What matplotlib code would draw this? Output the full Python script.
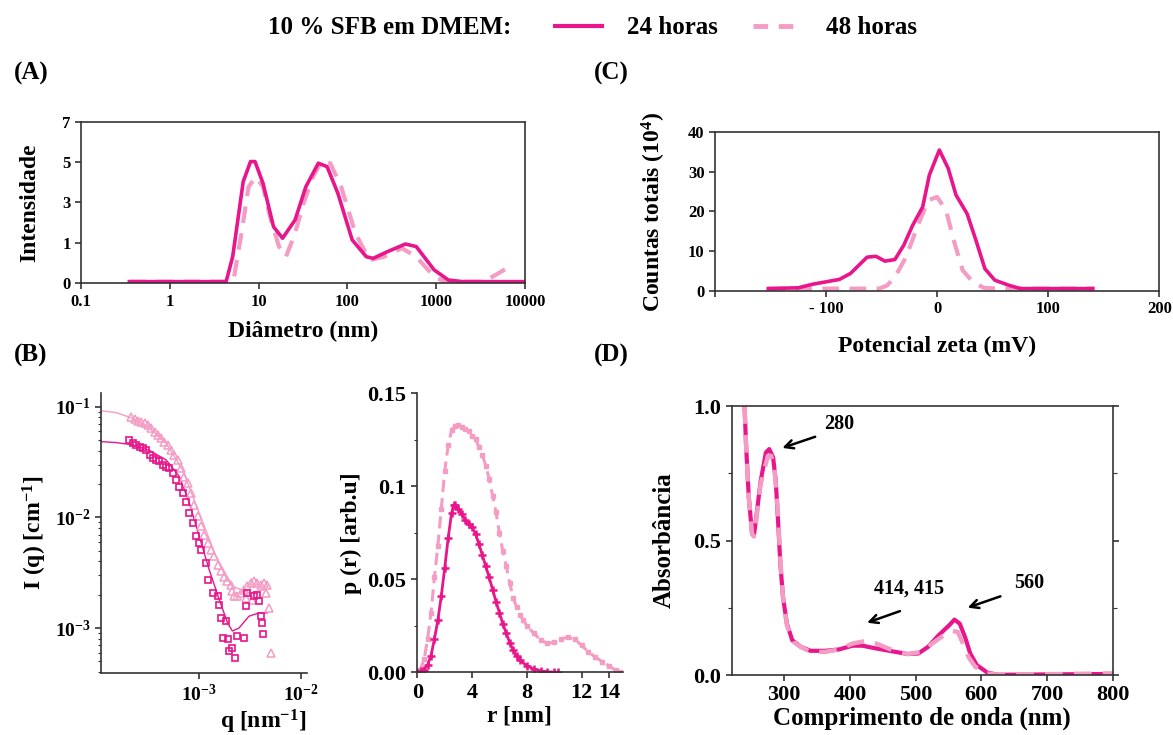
import matplotlib
matplotlib.use('Agg')
import matplotlib.pyplot as plt
from matplotlib.lines import Line2D
from matplotlib.ticker import LogLocator, NullLocator, NullFormatter, FixedLocator

# cores
C24 = '#E8158B'
C48 = '#F49CC4'
DASH = (0, (4, 2.5))

# (A) DLS - intensidade x diametro
dls_d24 = [0.35, 4.3, 5.1, 6.7, 8.1, 9.1, 11.2, 14.7, 18.6, 25.7, 34, 47, 59, 78, 113, 163, 195, 283, 450, 595, 946, 1370, 1980, 10000]
dls_i24 = [0.07, 0.07, 1.15, 4.4, 5.27, 5.27, 4.33, 2.45, 1.95, 2.74, 4.18, 5.2, 5.05, 3.9, 1.88, 1.15, 1.08, 1.37, 1.70, 1.59, 0.58, 0.14, 0.07, 0.07]
dls_d48 = [0.35, 5.0, 5.3, 6.4, 7.7, 9.3, 11.2, 13.4, 16.9, 20.3, 25.7, 32, 41, 51, 64, 85, 123, 178, 258, 410, 595, 946, 1250, 3450, 5000, 7200]
dls_i48 = [0.07, 0.07, 0.29, 2.16, 4.18, 4.6, 4.18, 2.9, 1.6, 1.15, 2.16, 3.46, 4.62, 5.27, 5.2, 4.18, 2.16, 1.0, 1.15, 1.52, 1.15, 0.29, 0.07, 0.07, 0.43, 0.79]
dls_xticks = [0.1, 1, 10, 100, 1000, 10000]
dls_xlabels = ['0.1', '1', '10', '100', '1000', '10000']
dls_ylabels = ['0', '1', '3', '5', '7']

# (C) potencial zeta
zeta_x24 = [-152, -125, -112, -98, -88, -78, -63, -55, -47, -38, -30, -22, -13, -7, 2, 10, 17, 27, 35, 43, 52, 65, 75, 140]
zeta_y24 = [0.6, 0.8, 1.7, 2.4, 2.9, 4.4, 8.5, 8.7, 7.5, 7.9, 11.5, 16.5, 21.1, 29.1, 35.4, 30.8, 24.1, 19.4, 12.7, 5.6, 2.7, 1.4, 0.6, 0.6]
zeta_x48 = [-152, -52, -45, -38, -28, -18, -8, 0, 8, 15, 23, 32, 42, 55, 142]
zeta_y48 = [0.6, 0.6, 1.4, 3.5, 8.5, 16, 22.8, 23.6, 20.3, 12.7, 5.2, 2.3, 0.8, 0.6, 0.6]

# (B) SAXS - I(q)
sq_q = [2.05e-4, 2.24e-4, 2.42e-4, 2.61e-4, 2.81e-4, 3.03e-4, 3.26e-4, 3.51e-4, 3.78e-4, 4.07e-4,
        4.39e-4, 4.73e-4, 5.10e-4, 5.50e-4, 5.93e-4, 6.38e-4, 6.88e-4, 7.41e-4, 8.0e-4, 8.61e-4,
        9.28e-4, 9.85e-4, 1.04e-3, 1.16e-3, 1.23e-3, 1.35e-3, 1.51e-3, 1.57e-3, 1.63e-3, 1.82e-3,
        1.69e-3, 1.93e-3, 1.96e-3, 2.11e-3, 2.24e-3, 2.36e-3, 2.74e-3, 2.85e-3, 2.96e-3, 3.44e-3,
        3.70e-3, 3.84e-3, 4.07e-3, 4.14e-3, 4.20e-3]
sq_I = [0.0501, 0.0468, 0.0452, 0.0436, 0.0422, 0.0407, 0.0367, 0.0343, 0.0331, 0.0320,
        0.0298, 0.0288, 0.0278, 0.0251, 0.0218, 0.0190, 0.0166, 0.0139, 0.0109, 0.0089,
        0.00675, 0.00587, 0.00512, 0.00388, 0.00274, 0.00208, 0.00194, 0.00163, 0.00124, 0.00116,
        8.2e-4, 7.9e-4, 6.2e-4, 6.65e-4, 5.4e-4, 8.5e-4, 8.2e-4, 1.58e-3, 2.08e-3, 1.94e-3,
        2.01e-3, 1.75e-3, 1.28e-3, 1.12e-3, 8.8e-4]
fit24_q = [1.09e-4, 1.54e-4, 2.24e-4, 3.26e-4, 4.73e-4, 6.38e-4, 8.0e-4, 1.0e-3, 1.25e-3, 1.57e-3, 1.89e-3, 2.11e-3, 2.45e-3, 3.07e-3, 3.84e-3, 4.63e-3]
fit24_I = [0.0484, 0.0474, 0.0452, 0.0402, 0.0331, 0.0234, 0.0135, 0.00675, 0.00338, 0.00181, 0.00112, 9.4e-4, 1.0e-3, 1.28e-3, 1.37e-3, 1.37e-3]
tri_q = [2.16e-4, 2.33e-4, 2.51e-4, 2.70e-4, 2.91e-4, 3.14e-4, 3.38e-4, 3.65e-4, 3.93e-4, 4.23e-4,
         4.56e-4, 4.92e-4, 5.30e-4, 5.71e-4, 6.15e-4, 6.63e-4, 7.14e-4, 7.69e-4, 8.29e-4, 8.94e-4,
         9.63e-4, 1.04e-3, 1.12e-3, 1.21e-3, 1.30e-3, 1.40e-3, 1.51e-3, 1.63e-3, 1.75e-3, 1.89e-3,
         2.03e-3, 2.11e-3, 2.19e-3, 2.36e-3, 2.55e-3, 2.74e-3, 2.85e-3, 2.96e-3, 3.19e-3, 3.31e-3,
         3.44e-3, 3.70e-3, 3.99e-3, 4.30e-3, 4.46e-3, 4.63e-3, 4.81e-3, 4.99e-3]
tri_I = [0.0813, 0.0769, 0.0748, 0.0732, 0.0707, 0.0684, 0.0638, 0.0596, 0.0556, 0.0519,
         0.0484, 0.0452, 0.0407, 0.0367, 0.0331, 0.0278, 0.0234, 0.0204, 0.0166, 0.0130,
         0.0102, 0.0083, 0.0070, 0.0059, 0.0051, 0.0045, 0.0037, 0.0033, 0.0029, 0.00265,
         0.00247, 0.00215, 0.00194, 0.00194, 0.00208, 0.00223, 0.00188, 0.00239, 0.00256, 0.00181,
         0.00265, 0.00256, 0.00247, 0.00256, 0.00208, 0.00247, 0.00152, 6.0e-4]
fit48_q = [1.09e-4, 1.54e-4, 2.24e-4, 3.26e-4, 4.73e-4, 6.88e-4, 1.0e-3, 1.45e-3, 2.11e-3, 3.07e-3, 4.46e-3]
fit48_I = [0.092, 0.0883, 0.0785, 0.0638, 0.0468, 0.0269, 0.0109, 0.0045, 0.00239, 0.00208, 0.00223]

# (B) p(r)
pr_r24 = [0, 0.25, 0.5, 0.75, 1.0, 1.25, 1.5, 1.75, 2.0, 2.25, 2.5, 2.65, 2.75, 3.0, 3.25, 3.5, 3.75, 4.0,
          4.25, 4.5, 4.75, 5.0, 5.25, 5.5, 5.75, 6.0, 6.25, 6.5, 6.75, 7.0, 7.25, 7.5, 8.0, 8.5, 9.0, 9.5, 10.0, 10.3]
pr_p24 = [0, 0.0005, 0.0015, 0.004, 0.009, 0.018, 0.028, 0.041, 0.056, 0.072, 0.0855, 0.090, 0.0898, 0.088,
          0.085, 0.082, 0.0797, 0.078, 0.0745, 0.069, 0.063, 0.057, 0.051, 0.0445, 0.038, 0.032, 0.026,
          0.021, 0.016, 0.012, 0.0088, 0.0065, 0.0035, 0.0018, 0.0008, 0.0003, 0.0001, 0]
pr_r48 = [0, 0.25, 0.5, 0.75, 1.0, 1.25, 1.5, 1.75, 2.0, 2.25, 2.5, 2.75, 3.0, 3.25, 3.5, 3.75, 4.0, 4.25,
          4.5, 4.75, 5.0, 5.25, 5.5, 5.75, 6.0, 6.25, 6.5, 6.75, 7.0, 7.25, 7.5, 7.75, 8.0, 8.5, 9.0, 9.5,
          10.0, 10.5, 11.0, 11.5, 12.0, 12.5, 13.0, 13.5, 14.0, 14.5, 14.8]
pr_p48 = [0, 0.002, 0.007, 0.018, 0.032, 0.051, 0.068, 0.088, 0.108, 0.122, 0.130, 0.1325, 0.1328, 0.132,
          0.131, 0.1295, 0.127, 0.1255, 0.121, 0.117, 0.111, 0.104, 0.095, 0.086, 0.0747, 0.065, 0.057,
          0.048, 0.040, 0.035, 0.031, 0.028, 0.025, 0.021, 0.0175, 0.0155, 0.0162, 0.018, 0.0188, 0.0178,
          0.0145, 0.011, 0.0082, 0.0058, 0.0035, 0.001, 0]

# (D) UV-vis
uv_wl24 = [239.5, 242, 246, 251, 253.7, 256, 264, 272, 277, 283, 287, 290.5, 294, 298, 304, 312, 325, 340,
           362, 383, 404, 419, 435, 462, 488, 504, 519, 535, 551, 559, 567, 575, 583, 593, 609, 625, 800]
uv_a24 = [1.0, 0.846, 0.66, 0.525, 0.519, 0.56, 0.72, 0.827, 0.84, 0.809, 0.722, 0.574, 0.414, 0.29, 0.191,
          0.13, 0.105, 0.09, 0.09, 0.095, 0.109, 0.109, 0.101, 0.089, 0.078, 0.080, 0.105, 0.148, 0.185,
          0.206, 0.191, 0.142, 0.080, 0.037, 0.009, 0.001, 0.004]
uv_wl48 = [239.5, 242, 246, 251, 253.7, 256, 264, 275, 280, 285, 290.5, 294, 298, 304, 314, 325, 340, 362,
           383, 404, 425, 440, 462, 488, 509, 525, 540.5, 556, 564, 572, 580, 590.5, 609, 625, 800]
uv_a48 = [1.0, 0.846, 0.66, 0.525, 0.515, 0.55, 0.71, 0.815, 0.815, 0.77, 0.6, 0.426, 0.29, 0.185, 0.123,
          0.105, 0.086, 0.086, 0.095, 0.117, 0.127, 0.117, 0.095, 0.078, 0.086, 0.117, 0.144, 0.164, 0.16,
          0.117, 0.068, 0.031, 0.006, 0.001, 0.006]

plt.rcParams['font.family'] = ['Liberation Serif', 'DejaVu Serif']
plt.rcParams['font.weight'] = 'bold'
plt.rcParams['axes.labelweight'] = 'bold'
plt.rcParams['mathtext.fontset'] = 'custom'
plt.rcParams['mathtext.rm'] = 'Liberation Serif:bold'
plt.rcParams['mathtext.bf'] = 'Liberation Serif:bold'
plt.rcParams['mathtext.it'] = 'Liberation Serif:bold:italic'
plt.rcParams['axes.linewidth'] = 1.2
plt.rcParams['axes.edgecolor'] = '#333333'
plt.rcParams['xtick.color'] = '#333333'
plt.rcParams['ytick.color'] = '#333333'
plt.rcParams['xtick.labelcolor'] = 'black'
plt.rcParams['ytick.labelcolor'] = 'black'

fig = plt.figure(figsize=(11.73, 7.35), dpi=100)

# ---- (A)
axA = fig.add_axes([0.0691, 0.6146, 0.3785, 0.2199])
axA.plot(dls_d48, dls_i48, color=C48, lw=3, ls=DASH)
axA.plot(dls_d24, dls_i24, color=C24, lw=2.6)
axA.set_xscale('log')
axA.set_xlim(0.1, 10000)
axA.set_ylim(0, 7)
axA.set_xticks(dls_xticks)
axA.set_xticklabels(dls_xlabels)
axA.xaxis.set_minor_locator(NullLocator())
axA.set_yticks([0, 1.75, 3.5, 5.25, 7])
axA.set_yticklabels(dls_ylabels)
axA.tick_params(labelsize=12, length=4, width=1.2)
axA.set_ylabel('Intensidade', fontsize=17, labelpad=16)
axA.set_xlabel('Diâmetro (nm)', fontsize=17, labelpad=8)

# ---- (C)
axC = fig.add_axes([0.6095, 0.6041, 0.3788, 0.2167])
axC.plot(zeta_x48, zeta_y48, color=C48, lw=3, ls=DASH)
axC.plot(zeta_x24, zeta_y24, color=C24, lw=2.6)
axC.set_xlim(-200, 200)
axC.set_ylim(0, 40)
axC.set_xticks([-200, -100, 0, 100, 200])
axC.set_xticklabels(['', '- 100', '0', '100', '200'])
axC.set_yticks([0, 10, 20, 30, 40])
axC.tick_params(labelsize=12, length=4, width=1.2)
axC.set_ylabel('Countas totais (10$^{4}$)', fontsize=17, labelpad=14)
axC.set_xlabel('Potencial zeta (mV)', fontsize=17, labelpad=13)

# ---- (B) I(q)
axB1 = fig.add_axes([0.0861, 0.0839, 0.1754, 0.3814])
axB1.plot(fit48_q, fit48_I, color=C48, lw=1)
axB1.plot(fit24_q, fit24_I, color=C24, lw=1)
axB1.plot(tri_q, tri_I, ls='none', marker='^', mfc='none', mec=C48, ms=6, mew=1.1)
axB1.plot(sq_q, sq_I, ls='none', marker='s', mfc='none', mec=C24, ms=5, mew=1.2)
axB1.set_xscale('log')
axB1.set_yscale('log')
axB1.set_xlim(1.09e-4, 1.13e-2)
axB1.set_ylim(3.9e-4, 0.133)
axB1.set_xticks([1e-3, 1e-2])
axB1.set_xticklabels([r'$10^{-3}$', r'$10^{-2}$'])
axB1.xaxis.set_minor_locator(NullLocator())
axB1.set_yticks([1e-3, 1e-2, 1e-1])
axB1.set_yticklabels([r'$10^{-3}$', r'$10^{-2}$', r'$10^{-1}$'])
axB1.yaxis.set_minor_locator(LogLocator(base=10, subs=range(2, 10)))
axB1.yaxis.set_minor_formatter(NullFormatter())
axB1.spines['top'].set_visible(False)
axB1.spines['right'].set_visible(False)
axB1.tick_params(labelsize=14, length=4, width=1.2)
axB1.tick_params(which='minor', length=2, width=0.8)
axB1.set_ylabel('I (q) [cm$^{-1}$]', fontsize=17, labelpad=4)
axB1.set_xlabel('q [nm$^{-1}$]', fontsize=17, loc='right', labelpad=2)

# ---- (B) p(r)
axB2 = fig.add_axes([0.3552, 0.0853, 0.1756, 0.3796])
axB2.plot(pr_r48, pr_p48, color=C48, lw=2.2, ls=(0, (4, 2)), marker='s', ms=3.5)
axB2.plot(pr_r24, pr_p24, color=C24, lw=2, marker='+', ms=6, mew=1.8)
axB2.set_xlim(-0.05, 15)
axB2.set_ylim(0, 0.15)
axB2.set_xticks([0, 4, 8, 12, 14])
axB2.set_yticks([0, 0.05, 0.1, 0.15])
axB2.set_yticklabels(['0.00', '0.05', '0.1', '0.15'])
axB2.yaxis.set_minor_locator(FixedLocator([0.025, 0.075, 0.125]))
axB2.spines['top'].set_visible(False)
axB2.spines['right'].set_visible(False)
axB2.tick_params(labelsize=16, length=4, width=1.2)
axB2.tick_params(which='minor', length=2, width=0.8)
axB2.set_ylabel('p (r) [arb.u]', fontsize=17, labelpad=4)
axB2.set_xlabel('r [nm]', fontsize=17, labelpad=2)

# ---- (D)
axD = fig.add_axes([0.6238, 0.0816, 0.3249, 0.366])
axD.plot(uv_wl24, uv_a24, color=C24, lw=3)
axD.plot(uv_wl48, uv_a48, color=C48, lw=3.2, ls=DASH)
axD.set_xlim(220, 800)
axD.set_ylim(0, 1.0)
axD.set_xticks([300, 400, 500, 600, 700, 800])
axD.set_yticks([0, 0.5, 1.0])
axD.set_yticklabels(['0.0', '0.5', '1.0'])
axD.yaxis.set_minor_locator(FixedLocator([0.25, 0.75]))
axD.tick_params(labelsize=16, length=4, width=1.2, right=True)
axD.tick_params(which='minor', length=3, width=0.8, right=True)
axD.set_ylabel('Absorbância', fontsize=18, labelpad=13)
axD.set_xlabel('Comprimento de onda (nm)', fontsize=18, labelpad=1)

arrow = dict(arrowstyle='->,head_length=0.6,head_width=0.3', lw=1.8, color='black')
axD.annotate('', xy=(293, 0.841), xytext=(351, 0.889), arrowprops=arrow)
axD.text(383, 0.933, '280', fontsize=14.5, ha='center', va='center')
axD.annotate('', xy=(422, 0.191), xytext=(480, 0.241), arrowprops=arrow)
axD.text(490, 0.322, '414, 415', fontsize=14.5, ha='center', va='center')
axD.annotate('', xy=(575, 0.247), xytext=(633, 0.296), arrowprops=arrow)
axD.text(672, 0.341, '560', fontsize=14.5, ha='center', va='center')

# painel labels
for x, y, s in [(0.012, 0.9, '(A)'), (0.012, 0.517, '(B)'), (0.506, 0.9, '(C)'), (0.506, 0.517, '(D)')]:
    fig.text(x, y, s, fontsize=18, va='center', ha='left')

# legenda
fig.text(0.2285, 0.962, '10 % SFB em DMEM:', fontsize=18, va='center', ha='left')
handles = [Line2D([], [], color=C24, lw=3), Line2D([], [], color=C48, lw=3.5, ls=(0, (3, 2.2)))]
fig.legend(handles, ['24 horas', '48 horas'], loc='center left', bbox_to_anchor=(0.473, 0.962),
           ncol=2, frameon=False, fontsize=18, handlelength=1.9, handletextpad=1.0,
           columnspacing=1.4, borderpad=0, borderaxespad=0)

fig.savefig('out.png', dpi=100)
